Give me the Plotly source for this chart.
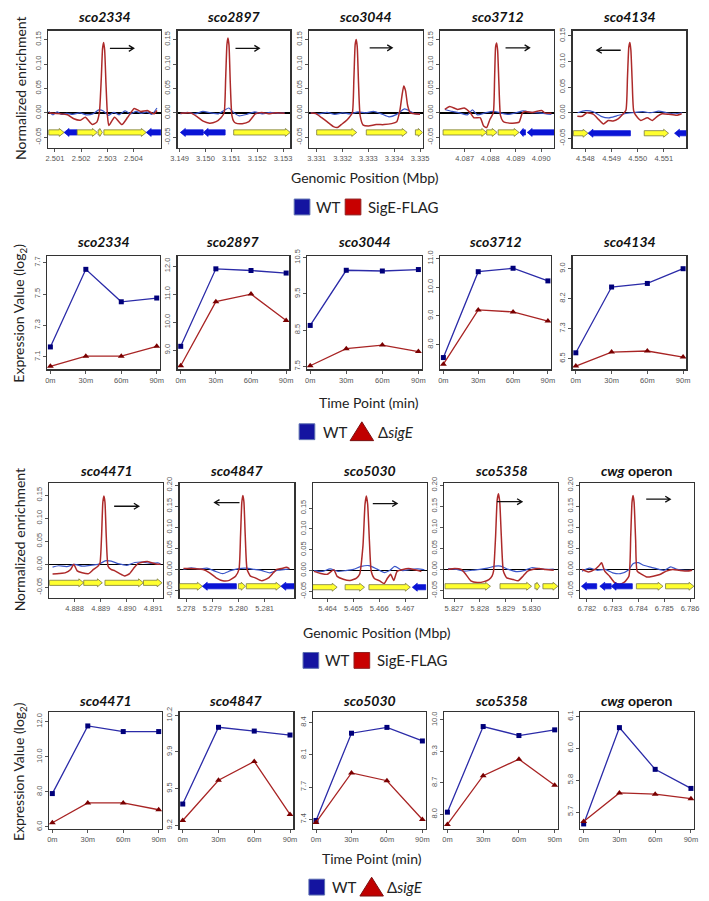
import plotly.graph_objects as go

W, H = 709, 901

# ---------------- ChIP-chip profiles (genomic position in Mbp, normalized enrichment) -------------
chip_names = ["sco2334", "sco2897", "sco3044", "sco3712", "sco4134",
              "sco4471", "sco4847", "sco5030", "sco5358", "cwg operon"]

sco2334_red_x = [2.50076, 2.50081, 2.50148, 2.50172, 2.50197, 2.50216, 2.50243, 2.50260, 2.50270, 2.50277,
                 2.50282, 2.50286, 2.50290, 2.50295, 2.50301, 2.50306, 2.50328, 2.50356, 2.50378, 2.50403,
                 2.50428, 2.50453, 2.50478, 2.50490]
sco2334_red_y = [0.0, 0.0, -0.004, -0.012, -0.015, -0.009, -0.024, -0.019, 0.002, 0.070,
                 0.132, 0.144, 0.128, 0.060, -0.008, -0.026, -0.009, -0.024, -0.009, 0.009,
                 0.003, 0.005, -0.002, 0.005]
sco2334_blue_x = [2.50076, 2.50092, 2.50108, 2.50125, 2.50145, 2.50168, 2.50195, 2.50220, 2.50245, 2.50268, 2.50285,
                  2.50305, 2.50325, 2.50345, 2.50368, 2.50390, 2.50410, 2.50430, 2.50450, 2.50470, 2.50490]
sco2334_blue_y = [0.003, -0.004, 0.002, -0.003, -0.001, -0.003, 0.0, -0.004, -0.002, 0.006, 0.004,
                  -0.005, 0.001, -0.004, 0.004, -0.002, 0.003, -0.001, 0.002, -0.003, 0.010]

sco2897_red_x = [3.14903, 3.14941, 3.14966, 3.14991, 3.15016, 3.15041, 3.15060, 3.15072, 3.15078, 3.15083,
                 3.15087, 3.15091, 3.15096, 3.15102, 3.15110, 3.15117, 3.15142, 3.15168, 3.15193, 3.15218,
                 3.15244, 3.15269, 3.15306]
sco2897_red_y = [-0.001, 0.0, -0.007, -0.017, -0.021, -0.018, -0.010, 0.0, 0.070, 0.140,
                 0.153, 0.138, 0.060, -0.005, -0.018, -0.021, -0.022, -0.018, -0.002, 0.001,
                 -0.002, 0.0, -0.001]
sco2897_blue_x = [3.14903, 3.1493, 3.1496, 3.1499, 3.1502, 3.1505, 3.15075, 3.1509, 3.1511, 3.1513,
                  3.1516, 3.1519, 3.1522, 3.1525, 3.1528, 3.15306]
sco2897_blue_y = [-0.002, 0.001, -0.002, 0.003, 0.0, -0.002, 0.006, 0.010, 0.0, -0.006,
                  -0.003, 0.002, -0.002, 0.001, -0.001, 0.0]

sco3044_red_x = [3.33077, 3.33095, 3.33115, 3.33140, 3.33165, 3.33180, 3.33195, 3.33210, 3.33225, 3.33238,
                 3.33244, 3.33249, 3.33253, 3.33257, 3.33262, 3.33268, 3.33280, 3.33300, 3.33330, 3.33360,
                 3.33390, 3.33410, 3.33422, 3.33430, 3.33437, 3.33444, 3.33452, 3.33462, 3.33480, 3.33500]
sco3044_red_y = [0.0, -0.001, -0.008, -0.018, -0.028, -0.030, -0.024, -0.018, -0.010, 0.0,
                 0.070, 0.140, 0.150, 0.135, 0.060, -0.005, -0.025, -0.027, -0.024, -0.024,
                 -0.022, -0.018, 0.005, 0.035, 0.055, 0.045, 0.015, 0.0, -0.002, -0.003]
sco3044_blue_x = [3.33077, 3.3311, 3.3314, 3.3317, 3.3320, 3.3323, 3.3326, 3.3329, 3.3332, 3.3335,
                  3.3338, 3.3341, 3.3344, 3.3346, 3.3348, 3.3350]
sco3044_blue_y = [0.0, -0.002, 0.001, -0.003, 0.0, -0.002, 0.002, 0.0, 0.003, -0.002,
                  -0.008, -0.003, 0.008, 0.004, -0.002, -0.002]

sco3712_red_x = [4.08622, 4.08641, 4.08672, 4.08698, 4.08722, 4.08736, 4.08761, 4.08774, 4.08786, 4.08799,
                 4.08812, 4.08817, 4.08821, 4.08825, 4.08829, 4.08834, 4.08840, 4.08850, 4.08862, 4.08888,
                 4.08913, 4.08926, 4.08938, 4.08964, 4.09002, 4.09014, 4.09040]
sco3712_red_y = [0.007, 0.013, 0.007, 0.010, 0.0, -0.010, -0.010, -0.027, -0.030, -0.013,
                 0.0, 0.070, 0.135, 0.143, 0.128, 0.060, -0.005, -0.017, -0.020, -0.021,
                 -0.019, 0.0, 0.003, 0.001, 0.005, 0.0, -0.001]
sco3712_blue_x = [4.08622, 4.0865, 4.0868, 4.0871, 4.0873, 4.0875, 4.0878, 4.0881, 4.0884, 4.0887,
                  4.0890, 4.0893, 4.0896, 4.0899, 4.0902, 4.0904]
sco3712_blue_y = [0.007, 0.003, 0.0, -0.004, 0.006, -0.004, 0.0, 0.003, 0.0, -0.003,
                  0.0, 0.004, 0.001, 0.0, -0.002, -0.003]

sco4134_red_x = [4.54769, 4.54788, 4.54806, 4.54831, 4.54850, 4.54869, 4.54887, 4.54906, 4.54925, 4.54943,
                 4.54955, 4.54961, 4.54966, 4.54970, 4.54974, 4.54979, 4.54985, 4.55000, 4.55012, 4.55037,
                 4.55056, 4.55075, 4.55093, 4.55118, 4.55149, 4.55168]
sco4134_red_y = [-0.007, -0.007, 0.0, -0.003, -0.013, -0.022, -0.015, -0.016, -0.012, -0.003,
                 0.005, 0.070, 0.128, 0.137, 0.122, 0.060, 0.003, -0.010, -0.015, -0.010,
                 -0.015, -0.007, -0.002, -0.003, -0.005, -0.002]
sco4134_blue_x = [4.5477, 4.5480, 4.5483, 4.5486, 4.5489, 4.5492, 4.5495, 4.5498, 4.5502, 4.5505,
                  4.5508, 4.5511, 4.5514, 4.5517]
sco4134_blue_y = [0.0, 0.004, 0.002, -0.007, -0.010, -0.006, -0.002, 0.0, 0.002, 0.0,
                  0.003, 0.0, -0.002, 0.0]

sco4471_red_x = [4.88716, 4.88741, 4.88766, 4.88785, 4.88797, 4.88810, 4.88829, 4.88854, 4.88872, 4.88889,
                 4.88897, 4.88903, 4.88908, 4.88912, 4.88916, 4.88921, 4.88928, 4.88939, 4.88954, 4.88972,
                 4.88991, 4.89010, 4.89028, 4.89041, 4.89054, 4.89078, 4.89091, 4.89110, 4.89128]
sco4471_red_y = [-0.021, -0.020, -0.018, -0.011, 0.0, -0.014, -0.018, -0.020, -0.011, -0.004,
                 0.003, 0.060, 0.135, 0.148, 0.135, 0.060, -0.004, -0.011, -0.014, -0.020,
                 -0.025, -0.020, -0.007, 0.001, 0.004, 0.006, 0.004, 0.001, 0.0]
sco4471_blue_x = [4.88716, 4.8874, 4.8877, 4.8880, 4.8883, 4.8886, 4.8889, 4.8892, 4.8894, 4.8897,
                  4.8900, 4.8903, 4.8906, 4.8909, 4.8912, 4.89128]
sco4471_blue_y = [-0.006, -0.003, -0.005, 0.0, -0.004, -0.002, 0.0, 0.008, 0.007, 0.001,
                  -0.002, 0.004, 0.005, 0.002, 0.003, 0.001]

sco4847_red_x = [5.27790, 5.27815, 5.27865, 5.27890, 5.27915, 5.27940, 5.27965, 5.27989, 5.28002, 5.28008,
                 5.28013, 5.28017, 5.28021, 5.28026, 5.28033, 5.28046, 5.28064, 5.28089, 5.28115, 5.28133,
                 5.28146, 5.28164, 5.28183, 5.28195]
sco4847_red_y = [0.002, 0.002, 0.0, -0.008, -0.020, -0.027, -0.026, -0.016, 0.0, 0.080,
                 0.160, 0.176, 0.160, 0.080, 0.0, -0.016, -0.020, -0.027, -0.020, -0.008,
                 0.0, 0.002, 0.005, 0.002]
sco4847_blue_x = [5.2779, 5.2782, 5.2785, 5.2788, 5.2791, 5.2794, 5.2797, 5.2800, 5.2803, 5.2806,
                  5.2809, 5.2812, 5.2815, 5.2818, 5.28195]
sco4847_blue_y = [0.0, 0.004, 0.001, 0.003, -0.004, -0.010, -0.003, 0.002, 0.003, 0.0,
                  -0.003, -0.008, -0.002, 0.0, 0.001]

sco5030_red_x = [5.46347, 5.46374, 5.46399, 5.46424, 5.46437, 5.46461, 5.46487, 5.46512, 5.46524, 5.46537,
                 5.46545, 5.46550, 5.46555, 5.46562, 5.46569, 5.46581, 5.46600, 5.46619, 5.46631, 5.46644,
                 5.46656, 5.46669, 5.46688, 5.46713, 5.46738, 5.46763]
sco5030_red_y = [-0.002, -0.007, -0.009, 0.002, -0.014, -0.021, -0.024, -0.018, -0.009, 0.060,
                 0.160, 0.179, 0.160, 0.070, -0.002, -0.019, -0.024, -0.031, -0.019, -0.009,
                 -0.024, -0.002, 0.002, 0.005, 0.002, -0.002]
sco5030_blue_x = [5.46347, 5.4638, 5.4641, 5.4644, 5.4647, 5.4650, 5.4653, 5.4656, 5.4659, 5.4662,
                  5.4664, 5.4666, 5.4669, 5.4672, 5.4675, 5.46775]
sco5030_blue_y = [0.0, -0.002, 0.004, -0.002, 0.0, 0.003, 0.010, 0.012, 0.004, -0.005,
                  0.0, 0.010, 0.0, 0.003, 0.004, 0.002]

sco5358_red_x = [5.82677, 5.82703, 5.82728, 5.82746, 5.82765, 5.82790, 5.82816, 5.82835, 5.82847, 5.82853,
                 5.82861, 5.82867, 5.82872, 5.82877, 5.82883, 5.82891, 5.82904, 5.82929, 5.82948, 5.82967,
                 5.82985, 5.83004, 5.83029, 5.83054, 5.83086]
sco5358_red_y = [0.0, 0.002, 0.0, -0.012, -0.027, -0.031, -0.029, -0.024, -0.016, -0.004,
                 0.080, 0.165, 0.180, 0.160, 0.080, -0.004, -0.020, -0.024, -0.027, -0.016,
                 -0.004, 0.0, 0.002, 0.0, -0.002]
sco5358_blue_x = [5.82677, 5.8271, 5.8274, 5.8277, 5.8280, 5.8283, 5.8286, 5.8288, 5.8291, 5.8294,
                  5.8297, 5.8300, 5.8303, 5.8306, 5.83086]
sco5358_blue_y = [0.002, 0.0, -0.004, -0.002, 0.0, 0.003, 0.008, 0.008, 0.0, -0.005,
                  -0.003, 0.004, 0.002, 0.0, 0.001]

cwg_red_x = [6.78181, 6.78206, 6.78231, 6.78246, 6.78257, 6.78269, 6.78288, 6.78307, 6.78326, 6.78344,
             6.78363, 6.78370, 6.78375, 6.78379, 6.78383, 6.78389, 6.78395, 6.78413, 6.78432, 6.78457,
             6.78483, 6.78508, 6.78533, 6.78558, 6.78589, 6.78608]
cwg_red_y = [0.0, -0.006, 0.0, 0.008, 0.016, -0.004, -0.016, -0.031, -0.035, -0.031,
             -0.016, 0.080, 0.160, 0.176, 0.160, 0.070, -0.004, -0.012, -0.018, -0.016,
             -0.012, -0.004, 0.0, -0.002, -0.004, -0.002]
cwg_blue_x = [6.78181, 6.7821, 6.7824, 6.7827, 6.7830, 6.7833, 6.7836, 6.7838, 6.7840, 6.7842,
              6.7845, 6.7848, 6.7850, 6.78525, 6.7855, 6.7858, 6.78608]
cwg_blue_y = [-0.004, 0.003, -0.002, 0.0, -0.008, -0.010, -0.002, 0.014, 0.016, 0.010,
              0.005, 0.0, -0.002, 0.006, 0.0, -0.002, -0.002]

chip_red = [(sco2334_red_x, sco2334_red_y), (sco2897_red_x, sco2897_red_y), (sco3044_red_x, sco3044_red_y),
            (sco3712_red_x, sco3712_red_y), (sco4134_red_x, sco4134_red_y), (sco4471_red_x, sco4471_red_y),
            (sco4847_red_x, sco4847_red_y), (sco5030_red_x, sco5030_red_y), (sco5358_red_x, sco5358_red_y),
            (cwg_red_x, cwg_red_y)]
chip_blue = [(sco2334_blue_x, sco2334_blue_y), (sco2897_blue_x, sco2897_blue_y), (sco3044_blue_x, sco3044_blue_y),
             (sco3712_blue_x, sco3712_blue_y), (sco4134_blue_x, sco4134_blue_y), (sco4471_blue_x, sco4471_blue_y),
             (sco4847_blue_x, sco4847_blue_y), (sco5030_blue_x, sco5030_blue_y), (sco5358_blue_x, sco5358_blue_y),
             (cwg_blue_x, cwg_blue_y)]

# genes: start, end, strand (+1 right / -1 left)
sco2334_genes = [(2.50076, 2.50135, 1), (2.50135, 2.50185, -1), (2.50185, 2.50262, 1), (2.50265, 2.50281, 1),
                 (2.50287, 2.50449, 1), (2.50449, 2.50505, -1)]
sco2897_genes = [(3.14903, 3.14991, -1), (3.14991, 3.15076, -1), (3.15109, 3.15328, 1)]
sco3044_genes = [(3.33100, 3.33255, 1), (3.33292, 3.33450, 1), (3.33482, 3.33510, 1)]
sco3712_genes = [(4.08615, 4.08786, 1), (4.08786, 4.08827, 1), (4.08831, 4.08913, 1), (4.08916, 4.08938, -1),
                 (4.08945, 4.09050, -1)]
sco4134_genes = [(4.54754, 4.54810, 1), (4.54810, 4.54972, -1), (4.55025, 4.55118, 1), (4.55141, 4.55186, -1)]
sco4471_genes = [(4.88704, 4.88835, 1), (4.88835, 4.88906, 1), (4.88916, 4.89063, 1), (4.89063, 4.89134, 1)]
sco4847_genes = [(5.27775, 5.27862, 1), (5.27862, 5.27992, -1), (5.28000, 5.28027, 1), (5.28030, 5.28162, 1),
                 (5.28162, 5.28213, -1)]
sco5030_genes = [(5.46342, 5.46437, 1), (5.46468, 5.46543, 1), (5.46560, 5.46720, 1), (5.46728, 5.46780, -1)]
sco5358_genes = [(5.82665, 5.82841, 1), (5.82878, 5.83000, 1), (5.83013, 5.83032, 1), (5.83044, 5.83102, 1)]
cwg_genes = [(6.78179, 6.78238, -1), (6.78250, 6.78294, -1), (6.78294, 6.78376, -1), (6.78392, 6.78495, 1),
             (6.78505, 6.78615, 1)]
chip_genes = [sco2334_genes, sco2897_genes, sco3044_genes, sco3712_genes, sco4134_genes,
              sco4471_genes, sco4847_genes, sco5030_genes, sco5358_genes, cwg_genes]

# transcription direction arrows: tail x, head x, y
chip_dir = [(2.50310, 2.50401, 0.132), (3.15116, 3.15208, 0.132), (3.33305, 3.33392, 0.133),
            (4.08860, 4.08954, 0.133), (4.54935, 4.54844, 0.122), (4.88951, 4.89045, 0.126),
            (5.28004, 5.27909, 0.159), (5.46575, 5.46669, 0.161), (5.82866, 5.82963, 0.161),
            (6.78430, 6.78523, 0.167)]

chip_xticks = [[2.501, 2.502, 2.503, 2.504], [3.149, 3.150, 3.151, 3.152, 3.153],
               [3.331, 3.332, 3.333, 3.334, 3.335], [4.086, 4.087, 4.088, 4.089, 4.090],
               [4.548, 4.549, 4.550, 4.551], [4.888, 4.889, 4.890, 4.891],
               [5.278, 5.279, 5.280, 5.281], [5.464, 5.465, 5.466, 5.467],
               [5.827, 5.828, 5.829, 5.830], [6.782, 6.783, 6.784, 6.785, 6.786]]
chip_xrange = [[2.50074, 2.50505], [3.14892, 3.15328], [3.33070, 3.33510], [4.08604, 4.09050],
               [4.54751, 4.55186], [4.88703, 4.89137], [5.27775, 5.28213], [5.46343, 5.46783],
               [5.82662, 5.83102], [6.78175, 6.78616]]
chip_yrange = [[-0.071, 0.168], [-0.071, 0.168], [-0.071, 0.168], [-0.071, 0.168], [-0.068, 0.160],
               [-0.073, 0.176], [-0.068, 0.205], [-0.066, 0.210], [-0.068, 0.205], [-0.068, 0.205]]
chip_yticks = [[-0.05, 0.0, 0.05, 0.10, 0.15]] * 6 + [[-0.05, 0.0, 0.05, 0.10, 0.15, 0.20],
                                                      [-0.05, 0.0, 0.05, 0.10, 0.15],
                                                      [-0.05, 0.0, 0.05, 0.10, 0.15, 0.20],
                                                      [-0.05, 0.0, 0.05, 0.10, 0.15, 0.20]]

# ---------------- Expression time course (log2) -------------
time_labels = ["0m", "30m", "60m", "90m"]
expr_names = chip_names
wt_expr = [[7.163, 7.658, 7.451, 7.475], [9.14, 11.90, 11.84, 11.75], [8.63, 10.15, 10.13, 10.17],
           [7.55, 10.54, 10.66, 10.22], [6.66, 8.49, 8.59, 9.00], [7.90, 11.75, 11.43, 11.43],
           [9.394, 10.09, 10.056, 10.02], [7.39, 8.29, 8.35, 8.21], [8.05, 9.86, 9.67, 9.79],
           [5.65, 6.054, 5.879, 5.799]]
sige_expr = [[7.039, 7.104, 7.104, 7.167], [8.45, 10.73, 11.00, 10.06], [7.52, 7.99, 8.09, 7.91],
             [7.32, 9.21, 9.14, 8.82], [6.29, 6.68, 6.71, 6.54], [6.24, 7.37, 7.37, 6.98],
             [9.245, 9.61, 9.78, 9.30], [7.37, 7.88, 7.80, 7.40], [7.79, 8.82, 9.17, 8.62],
             [5.66, 5.78, 5.775, 5.756]]
expr_yrange = [[7.02, 7.74], [8.32, 12.34], [7.42, 10.53], [7.14, 11.07], [6.20, 9.34],
               [5.90, 12.55], [9.17, 10.23], [7.305, 8.51], [7.70, 10.17], [5.63, 6.12]]
expr_ytickvals = [[7.1, 7.3, 7.5, 7.7], [9, 10, 11, 12], [7.5, 8.5, 9.5, 10.5], [8, 9, 10, 11],
                  [6.5, 7.3333, 8.1667, 9.0], [6, 8, 10, 12], [9.2, 9.5333, 9.8667, 10.2],
                  [7.4, 7.7333, 8.0667, 8.4], [8.0, 8.6667, 9.3333, 10.0], [5.7, 5.8333, 5.9667, 6.1]]
expr_yticktext = [["7.1", "7.3", "7.5", "7.7"], ["9.0", "10.0", "11.0", "12.0"], ["7.5", "8.5", "9.5", "10.5"],
                  ["8.0", "9.0", "10.0", "11.0"], ["6.5", "7.3", "8.2", "9.0"], ["6.0", "8.0", "10.0", "12.0"],
                  ["9.2", "9.5", "9.9", "10.2"], ["7.4", "7.7", "8.1", "8.4"], ["8.0", "8.7", "9.3", "10.0"],
                  ["5.7", "5.8", "6.0", "6.1"]]

# ---------------- layout geometry (pixels) -------------
row_y = {1: (24, 142), 2: (252, 366), 3: (481, 597), 4: (712, 830)}
cols_top = [(42, 157), (174, 289), (308, 424), (442, 558), (577, 693)]
cols_row2 = [(41, 156), (174, 288), (306, 423), (442, 555), (577, 693)]
cols_bot = [(43, 159), (176, 293), (312, 428), (446, 562), (585, 701)]
cols_row4 = [(43, 158), (176, 292), (312, 427), (446, 562), (585, 701)]

TITLE_Y = {1: 10, 2: 237, 3: 468, 4: 700}

def px_x(p):
    return p / W

def px_y(p):
    return 1 - p / H

fig = go.Figure()
layout = dict(width=W, height=H, margin=dict(l=0, r=0, t=0, b=0),
              paper_bgcolor="white", plot_bgcolor="white", showlegend=False)
shapes = []
annotations = []

RED_CHIP = "#ad2a2a"
BLUE_CHIP = "#3a55c8"
TICKFONT = dict(family="Liberation Sans, Arial, sans-serif", size=7.5, color="#555555")
AX_COMMON = dict(showline=True, mirror=True, linecolor="#333333", linewidth=1.3, showgrid=False,
                 ticks="outside", ticklen=3, tickwidth=1, tickcolor="#555555", tickfont=TICKFONT,
                 ticklabeloverflow="allow")

def title_text(name):
    if name == "cwg operon":
        return "<b><i>cwg</i> operon</b>"
    return "<b><i>%s</i></b>" % name

def add_axes(k, xdom_px, ydom_px):
    xd = [px_x(xdom_px[0]), px_x(xdom_px[1])]
    yd = [px_y(ydom_px[1]), px_y(ydom_px[0])]
    xn = "xaxis" if k == 1 else "xaxis%d" % k
    yn = "yaxis" if k == 1 else "yaxis%d" % k
    layout[xn] = dict(domain=xd, anchor="y" if k == 1 else "y%d" % k, **AX_COMMON)
    layout[yn] = dict(domain=yd, anchor="x" if k == 1 else "x%d" % k, **AX_COMMON)
    return xn, yn

TITLEFONT = dict(family="Lato, Open Sans, sans-serif", size=14, color="#111111")
k = 0
# ChIP panels: rows 1 and 3
for i in range(10):
    k += 1
    row = 1 if i < 5 else 3
    col = i % 5
    xdom = (cols_top if row == 1 else cols_bot)[col]
    ydom = row_y[row]
    xn, yn = add_axes(k, xdom, ydom)
    xr, yr = "x%d" % k if k > 1 else "x", "y%d" % k if k > 1 else "y"
    layout[xn].update(range=chip_xrange[i], tickvals=chip_xticks[i],
                      ticktext=["%.3f" % v for v in chip_xticks[i]], zeroline=False)
    layout[yn].update(range=chip_yrange[i], tickvals=chip_yticks[i],
                      ticktext=["%.2f" % v for v in chip_yticks[i]], tickangle=-90,
                      zeroline=True, zerolinecolor="#000000", zerolinewidth=1.4)
    bx, by = chip_blue[i]
    rx, ry = chip_red[i]
    fig.add_trace(go.Scatter(x=bx, y=by, mode="lines", line=dict(color=BLUE_CHIP, width=1.2, shape="spline", smoothing=0.6),
                             xaxis=xr, yaxis=yr, hoverinfo="skip"))
    fig.add_trace(go.Scatter(x=rx, y=ry, mode="lines", line=dict(color=RED_CHIP, width=1.5, shape="spline", smoothing=0.5),
                             xaxis=xr, yaxis=yr, hoverinfo="skip"))
    dxp = (chip_xrange[i][1] - chip_xrange[i][0]) / (xdom[1] - xdom[0])
    dyp = (chip_yrange[i][1] - chip_yrange[i][0]) / (ydom[1] - ydom[0])
    yc = -0.040
    h1, h2, hl = 2.6 * dyp, 4.0 * dyp, 5.0 * dxp
    for (s, e, strand) in chip_genes[i]:
        length = e - s
        head = min(hl, length * 0.6)
        if strand > 0:
            b = e - head
            path = "M%f,%f L%f,%f L%f,%f L%f,%f L%f,%f L%f,%f L%f,%f Z" % (
                s, yc - h1, b, yc - h1, b, yc - h2, e, yc, b, yc + h2, b, yc + h1, s, yc + h1)
            fill, linec = "#ffff2e", "#7a7a40"
        else:
            b = s + head
            path = "M%f,%f L%f,%f L%f,%f L%f,%f L%f,%f L%f,%f L%f,%f Z" % (
                e, yc - h1, b, yc - h1, b, yc - h2, s, yc, b, yc + h2, b, yc + h1, e, yc + h1)
            fill, linec = "#0a14d6", "#0a14d6"
        shapes.append(dict(type="path", path=path, xref=xr, yref=yr, fillcolor=fill,
                           line=dict(color=linec, width=0.8), layer="above"))
    t0, t1, yy = chip_dir[i]
    sgn = 1 if t1 > t0 else -1
    hx, hy = 5.0 * dxp * sgn, 3.0 * dyp
    shapes.append(dict(type="path", xref=xr, yref=yr,
                       path="M%f,%f L%f,%f M%f,%f L%f,%f L%f,%f" % (t0, yy, t1, yy, t1 - hx, yy + hy, t1, yy, t1 - hx, yy - hy),
                       line=dict(color="#111111", width=1.3)))
    annotations.append(dict(text=title_text(chip_names[i]), x=px_x((xdom[0] + xdom[1]) / 2), y=px_y(TITLE_Y[row]),
                            xref="paper", yref="paper", showarrow=False, xanchor="center", yanchor="middle",
                            font=TITLEFONT))

# Expression panels: rows 2 and 4
for i in range(10):
    k += 1
    row = 2 if i < 5 else 4
    col = i % 5
    xdom = (cols_row2 if row == 2 else cols_row4)[col]
    ydom = row_y[row]
    xn, yn = add_axes(k, xdom, ydom)
    xr, yr = "x%d" % k, "y%d" % k
    layout[xn].update(range=[-0.09, 3.09], tickvals=[0, 1, 2, 3], ticktext=time_labels, zeroline=False)
    layout[yn].update(range=expr_yrange[i], tickvals=expr_ytickvals[i], ticktext=expr_yticktext[i],
                      tickangle=-90, zeroline=False)
    fig.add_trace(go.Scatter(x=[0, 1, 2, 3], y=wt_expr[i], mode="lines+markers",
                             line=dict(color="#2b2ba8", width=1.3),
                             marker=dict(symbol="square", size=5, color="#00007a"),
                             xaxis=xr, yaxis=yr, hoverinfo="skip", cliponaxis=False))
    fig.add_trace(go.Scatter(x=[0, 1, 2, 3], y=sige_expr[i], mode="lines+markers",
                             line=dict(color="#a82424", width=1.3),
                             marker=dict(symbol="triangle-up", size=6, color="#7a0000"),
                             xaxis=xr, yaxis=yr, hoverinfo="skip", cliponaxis=False))
    annotations.append(dict(text=title_text(expr_names[i]), x=px_x((xdom[0] + xdom[1]) / 2), y=px_y(TITLE_Y[row]),
                            xref="paper", yref="paper", showarrow=False, xanchor="center", yanchor="middle",
                            font=TITLEFONT))

LABFONT = dict(family="Lato, Open Sans, sans-serif", size=14, color="#222222")
# y-axis titles
for (txt, cy) in [("Normalized enrichment", 82), ("Expression Value (log<sub>2</sub>)", 309),
                  ("Normalized enrichment", 538), ("Expression Value (log<sub>2</sub>)", 772)]:
    annotations.append(dict(text=txt, x=px_x(13), y=px_y(cy), xref="paper", yref="paper", showarrow=False,
                            textangle=-90, xanchor="center", yanchor="middle", font=LABFONT))
# x-axis titles
for (txt, cx, cy) in [("Genomic Position (Mbp)", 365, 172), ("Time Point (min)", 369, 399),
                      ("Genomic Position (Mbp)", 377, 632), ("Time Point (min)", 372, 860)]:
    annotations.append(dict(text=txt, x=px_x(cx), y=px_y(cy), xref="paper", yref="paper", showarrow=False,
                            xanchor="center", yanchor="middle", font=LABFONT))

# legends
def sq(x0, y0, size, color, border):
    shapes.append(dict(type="rect", xref="paper", yref="paper", x0=px_x(x0), x1=px_x(x0 + size),
                       y0=px_y(y0 + size), y1=px_y(y0), fillcolor=color, line=dict(color=border, width=1)))

def tri(x0, y0, w, h, color):
    shapes.append(dict(type="path", xref="paper", yref="paper",
                       path="M%f,%f L%f,%f L%f,%f Z" % (px_x(x0), px_y(y0 + h), px_x(x0 + w), px_y(y0 + h),
                                                       px_x(x0 + w / 2), px_y(y0)),
                       fillcolor=color, line=dict(color="#7a1010", width=1)))

LEGFONT = dict(family="Lato, Open Sans, sans-serif", size=15, color="#222222")
for cy, x0 in [(202, 293), (660, 302)]:
    sq(x0, cy - 8, 16, "#1414a0", "#5c6fb0")
    annotations.append(dict(text="WT", x=px_x(x0 + 20), y=px_y(cy), xref="paper", yref="paper", showarrow=False,
                            xanchor="left", yanchor="middle", font=LEGFONT))
    sq(x0 + 52, cy - 8, 16, "#c80000", "#902020")
    annotations.append(dict(text="SigE-FLAG", x=px_x(x0 + 73), y=px_y(cy), xref="paper", yref="paper",
                            showarrow=False, xanchor="left", yanchor="middle", font=LEGFONT))
for cy, x0 in [(429, 298), (889, 308)]:
    sq(x0, cy - 8, 16, "#1414a0", "#5c6fb0")
    annotations.append(dict(text="WT", x=px_x(x0 + 22), y=px_y(cy), xref="paper", yref="paper", showarrow=False,
                            xanchor="left", yanchor="middle", font=LEGFONT))
    tri(x0 + 52, cy - 10, 24, 19, "#c00000")
    annotations.append(dict(text="Δ<i>sigE</i>", x=px_x(x0 + 78), y=px_y(cy), xref="paper", yref="paper",
                            showarrow=False, xanchor="left", yanchor="middle", font=LEGFONT))

layout["shapes"] = shapes
layout["annotations"] = annotations
fig.update_layout(**layout)
fig.write_html("out.html", config={"displayModeBar": False, "staticPlot": True},
               post_script="document.body.style.margin='0';document.body.style.padding='0';"
                           "document.documentElement.style.overflow='hidden';")
